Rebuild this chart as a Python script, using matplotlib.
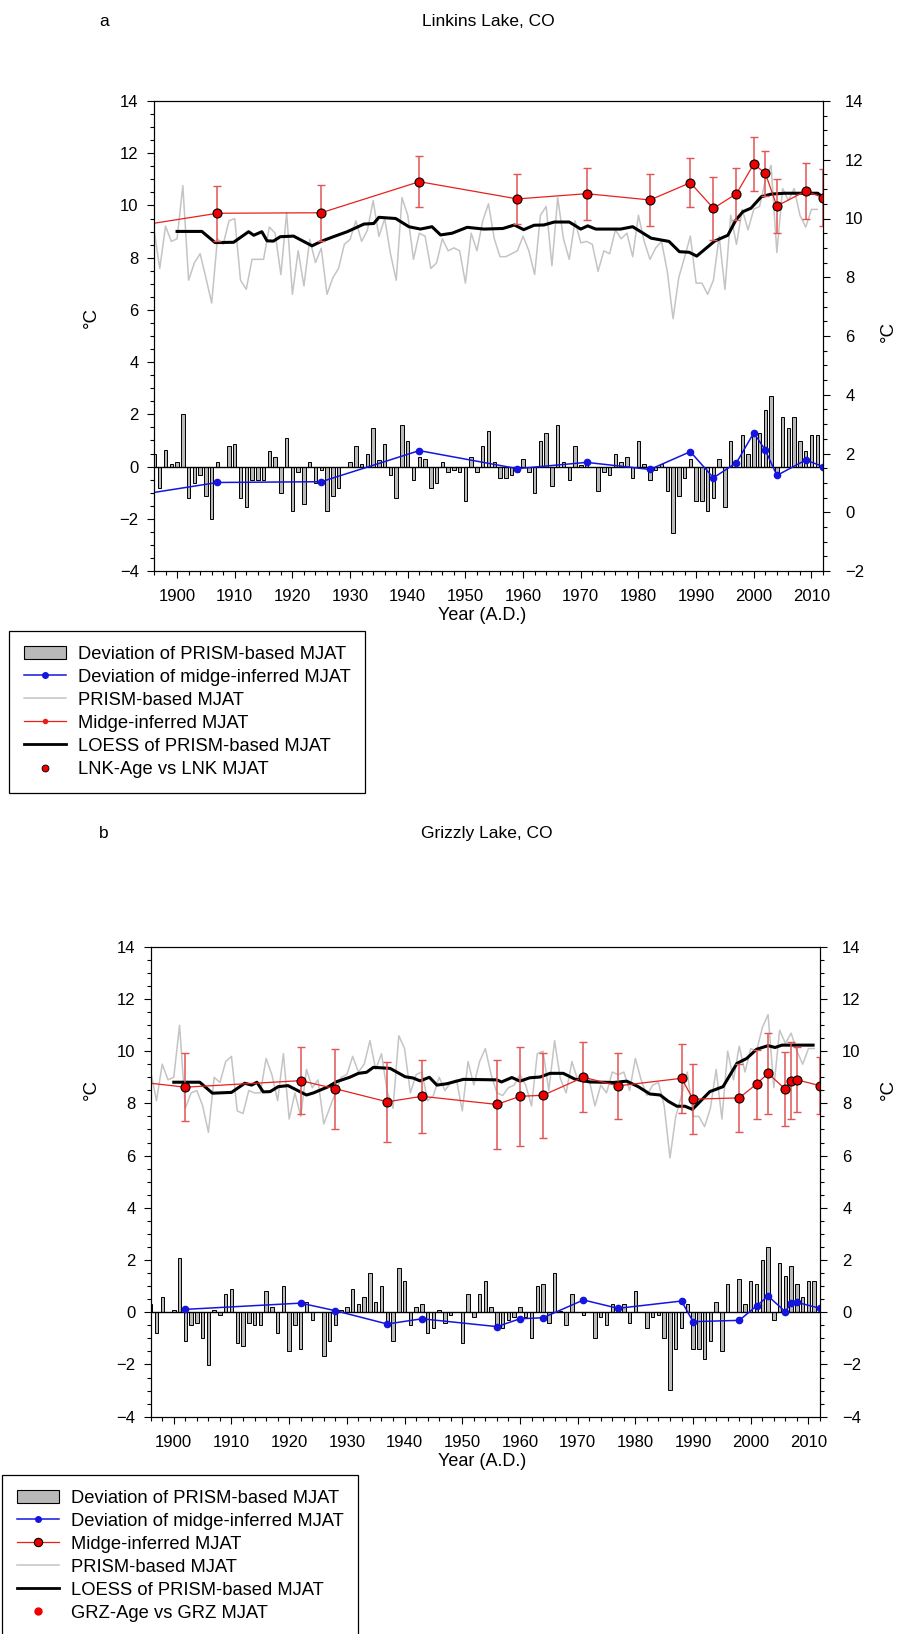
import numpy as np
import matplotlib
matplotlib.use("Agg")
import matplotlib.pyplot as plt
from matplotlib.lines import Line2D
from matplotlib.patches import Patch
from matplotlib.ticker import MultipleLocator

plt.rcParams['font.family'] = ['Liberation Sans', 'DejaVu Sans']

years = np.arange(1896, 2012)

# ---- Linkins Lake (panel a) ----
lnk_dev = [0.50, -0.82, 0.62, 0.10, 0.19, 2.00, -1.22, -0.63, -0.32, -1.14,
           -2.00, 0.19, 0.00, 0.80, 0.88, -1.22, -1.53, -0.51, -0.51, -0.51,
           0.59, 0.38, -1.03, 1.08, -1.70, -0.22, -1.42, 0.17, -0.62, -0.13,
           -1.70, -1.14, -0.82, 0.00, 0.17, 0.80, 0.10, 0.48, 1.49, 0.27,
           0.88, -0.32, -1.22, 1.59, 0.99, -0.51, 0.38, 0.28, -0.82, -0.63,
           0.19, -0.22, -0.12, -0.22, -1.32, 0.38, -0.22, 0.80, 1.38, 0.19,
           -0.42, -0.42, -0.32, -0.22, 0.28, -0.22, -1.03, 0.99, 1.29, -0.73,
           1.59, 0.19, -0.51, 0.80, 0.05, 0.10, 0.00, -0.92, -0.22, -0.32,
           0.49, 0.19, 0.38, -0.42, 0.99, 0.10, -0.51, -0.12, 0.10, -0.92,
           -2.53, -1.12, -0.44, 0.28, -1.32, -1.32, -1.70, -1.22, 0.28, -1.54,
           0.99, 0.00, 1.19, 0.49, 1.20, 1.29, 2.18, 2.69, -0.28, 1.90,
           1.49, 1.90, 0.99, 0.59, 1.19, 1.19]
lnk_prism_mean = 9.12   # PRISM is read on the right axis

lnk_midge_year = [1890, 1907, 1925, 1942, 1959, 1971, 1982, 1989, 1993, 1997, 2000, 2002, 2004, 2009, 2012]
lnk_midge = [9.11, 9.70, 9.72, 10.91, 10.25, 10.45, 10.21, 10.87, 9.89, 10.45, 11.59, 11.23, 9.98, 10.55, 10.30]
lnk_midge_err = [1.0, 1.05, 1.07, 0.97, 0.97, 1.0, 0.98, 0.93, 1.2, 1.0, 1.04, 0.85, 1.04, 1.06, 1.08]
lnk_midge_dev = [-1.2, -0.61, -0.58, 0.61, -0.08, 0.16, -0.11, 0.57, -0.43, 0.15, 1.29, 0.63, -0.34, 0.25, 0.0]

lnk_loess_year = [1900, 1904.3, 1906.6, 1909.8, 1912.4, 1913.3, 1914.7, 1915.6, 1916.7, 1917.9,
                  1920.2, 1923.4, 1925.1, 1927.1, 1929.5, 1932.4, 1934.1, 1935.0, 1937.9, 1940.2,
                  1942.2, 1944.2, 1945.7, 1947.7, 1950.3, 1953.2, 1956.5, 1958.5, 1960.1, 1961.9,
                  1963.6, 1965.4, 1968.0, 1970.0, 1971.2, 1972.6, 1976.9, 1979.0, 1982.2, 1985.3,
                  1987.1, 1988.8, 1990.1, 1993.2, 1995.5, 1996.9, 1998.1, 1999.5, 2001.3, 2003.0,
                  2005.3, 2011.1, 2011.7]
lnk_loess = [9.56, 9.56, 9.18, 9.19, 9.55, 9.43, 9.55, 9.24, 9.23, 9.38,
             9.40, 9.07, 9.23, 9.38, 9.55, 9.81, 9.83, 10.04, 10.00, 9.72,
             9.64, 9.72, 9.44, 9.50, 9.70, 9.64, 9.66, 9.78, 9.62, 9.77,
             9.78, 9.88, 9.88, 9.64, 9.75, 9.64, 9.64, 9.72, 9.33, 9.22,
             8.87, 8.85, 8.72, 9.23, 9.43, 9.95, 10.23, 10.35, 10.74, 10.83,
             10.86, 10.86, 10.76]

# ---- Grizzly Lake (panel b) ----
grz_dev = [0.32, -0.80, 0.60, 0.00, 0.10, 2.09, -1.09, -0.50, -0.41, -0.99,
           -2.01, 0.10, -0.10, 0.70, 0.90, -1.19, -1.29, -0.41, -0.50, -0.50,
           0.82, 0.20, -0.80, 1.00, -1.50, -0.50, -1.40, 0.40, -0.30, 0.00,
           -1.69, -1.09, -0.50, 0.10, 0.20, 0.90, 0.30, 0.60, 1.50, 0.40,
           1.00, -0.45, -1.09, 1.69, 1.20, -0.50, 0.20, 0.30, -0.80, -0.60,
           0.10, -0.41, -0.10, 0.00, -1.19, 0.70, -0.20, 0.70, 1.20, 0.20,
           -0.50, -0.60, -0.30, -0.20, 0.20, -0.20, -1.00, 1.00, 1.10, -0.41,
           1.50, 0.05, -0.50, 0.70, 0.00, -0.10, 0.00, -1.00, -0.20, -0.50,
           0.30, 0.20, 0.30, -0.41, 0.82, 0.00, -0.60, -0.20, -0.10, -1.00,
           -2.99, -1.40, -0.60, 0.30, -1.40, -1.40, -1.79, -1.09, 0.40, -1.50,
           1.10, 0.00, 1.29, 0.30, 1.20, 1.10, 2.00, 2.50, -0.30, 1.90,
           1.40, 1.79, 1.10, 0.60, 1.20, 1.20]
grz_prism_mean = 8.9

grz_midge_year = [1890, 1902, 1922, 1928, 1937, 1943, 1956, 1960, 1964, 1971, 1977, 1988, 1990, 1998, 2001, 2003, 2006, 2007, 2008, 2012]
grz_midge = [8.92, 8.62, 8.87, 8.56, 8.06, 8.27, 7.96, 8.27, 8.31, 9.00, 8.67, 8.96, 8.16, 8.21, 8.74, 9.15, 8.54, 8.87, 8.90, 8.68]
grz_midge_err = [1.3, 1.3, 1.28, 1.53, 1.53, 1.39, 1.72, 1.9, 1.63, 1.34, 1.25, 1.33, 1.33, 1.3, 1.32, 1.54, 1.42, 1.47, 1.24, 1.1]
grz_dev_year = [1902, 1922, 1928, 1937, 1943, 1956, 1960, 1964, 1971, 1977, 1988, 1990, 1998, 2001, 2003, 2006, 2007, 2008, 2012]
grz_midge_dev = [0.11, 0.35, 0.06, -0.45, -0.25, -0.55, -0.25, -0.21, 0.47, 0.15, 0.43, -0.36, -0.31, 0.24, 0.62, 0.02, 0.36, 0.38, 0.15]

grz_loess_year = [1900.0, 1904.5, 1906.7, 1910.0, 1912.3, 1913.5, 1914.4, 1915.5, 1916.7, 1918.1,
                  1919.8, 1923.0, 1924.2, 1926.8, 1928.2, 1930.5, 1932.0, 1933.4, 1934.6, 1937.5,
                  1940.1, 1941.5, 1942.7, 1944.3, 1945.6, 1947.3, 1950.2, 1956.0, 1956.8, 1958.6,
                  1960.0, 1961.7, 1963.5, 1965.2, 1967.5, 1969.5, 1972.1, 1976.2, 1978.5, 1980.5,
                  1982.5, 1984.3, 1985.7, 1987.2, 1988.6, 1989.9, 1992.9, 1995.2, 1997.6, 1999.3,
                  2001.0, 2003.0, 2004.2, 2005.4, 2010.8]
grz_loess = [8.81, 8.81, 8.39, 8.42, 8.77, 8.70, 8.81, 8.44, 8.45, 8.64,
             8.68, 8.32, 8.40, 8.64, 8.83, 9.00, 9.15, 9.19, 9.38, 9.34,
             9.02, 8.97, 8.86, 9.00, 8.70, 8.75, 8.92, 8.90, 8.82, 8.99,
             8.85, 8.98, 9.01, 9.15, 9.15, 8.93, 8.82, 8.80, 8.85, 8.64,
             8.36, 8.32, 8.08, 7.89, 7.89, 7.77, 8.45, 8.64, 9.53, 9.72,
             10.07, 10.21, 10.14, 10.23, 10.23]

W, H = 904, 1634
fig = plt.figure(figsize=(W / 100, H / 100), dpi=100)

RED = '#e8201c'
ERR = '#e25555'
BLUE = '#1515e0'
GRAY = '#c4c4c4'
BARC = '#b9b9b9'


def fx(px):
    return px / W


def fy(py):
    return 1 - py / H


def style_axis(ax):
    ax.tick_params(axis='both', which='both', direction='out', width=0.8, labelsize=12)
    ax.tick_params(which='major', length=5)
    ax.tick_params(which='minor', length=3)
    ax.yaxis.set_major_locator(MultipleLocator(2))
    ax.yaxis.set_minor_locator(MultipleLocator(0.5))
    for s in ax.spines.values():
        s.set_linewidth(0.8)


def panel(box, dev, prism_mean, right_lim, m_year, m_val, m_err, d_year, d_val, l_year, l_val):
    left, top, right, bottom = box
    ax = fig.add_axes([fx(left), fy(bottom), fx(right - left), (bottom - top) / H])
    ax2 = ax.twinx()

    # PRISM and its LOESS sit on the right-hand scale
    ax2.plot(years, prism_mean + np.array(dev), color=GRAY, lw=1.1)
    ax2.plot(l_year, l_val, color='black', lw=2.2)

    ax.bar(years, dev, width=0.6, color=BARC, edgecolor='black', linewidth=0.7)
    ax.axhline(0, color='black', lw=1)
    ax.plot(d_year, d_val, '-o', color=BLUE, lw=1.1, ms=4.5)
    ax.errorbar(m_year, m_val, yerr=m_err, fmt='none', ecolor=ERR, elinewidth=1.1,
                capsize=3, capthick=1)
    ax.plot(m_year, m_val, color=RED, lw=0.9)
    ax.plot(m_year, m_val, 'o', ms=6.5, mfc='#ee0000', mec='black', mew=0.8)

    ax.set_zorder(ax2.get_zorder() + 1)
    ax.patch.set_visible(False)

    ax.set_xlim(1896, 2012)
    ax.set_ylim(-4, 14)
    ax2.set_ylim(*right_lim)
    ax.xaxis.set_major_locator(MultipleLocator(10))
    ax.xaxis.set_minor_locator(MultipleLocator(2))
    style_axis(ax)
    style_axis(ax2)
    ax.tick_params(axis='x', which='both', top=False)
    ax.tick_params(axis='x', which='major', pad=8)
    ax.tick_params(axis='y', which='both', left=True, right=False)
    ax.tick_params(axis='y', which='major', pad=6)
    ax2.tick_params(axis='y', which='both', left=False, right=True, labelright=True)
    ax2.yaxis.set_tick_params(which='major', pad=11)
    return ax


# panel a
panel((154, 101, 823, 571), lnk_dev, lnk_prism_mean, (-2, 14),
      lnk_midge_year, lnk_midge, lnk_midge_err, lnk_midge_year, lnk_midge_dev,
      lnk_loess_year, lnk_loess)
fig.text(fx(104), fy(21), 'a', fontsize=12.5, ha='center', va='center')
fig.text(fx(488), fy(21), 'Linkins Lake, CO', fontsize=12.5, ha='center', va='center')
fig.text(fx(482), fy(615), 'Year (A.D.)', fontsize=13, ha='center', va='center')
fig.text(fx(91), fy(318), '°C', fontsize=13.5, ha='center', va='center', rotation=90)
fig.text(fx(888), fy(331), '°C', fontsize=13.5, ha='center', va='center', rotation=90)

# panel b
panel((150.7, 946.7, 820, 1416.7), grz_dev, grz_prism_mean, (-4, 14),
      grz_midge_year, grz_midge, grz_midge_err, grz_dev_year, grz_midge_dev,
      grz_loess_year, grz_loess)
fig.text(fx(104), fy(834), 'b', fontsize=12.5, ha='center', va='center')
fig.text(fx(487), fy(834), 'Grizzly Lake, CO', fontsize=12.5, ha='center', va='center')
fig.text(fx(482), fy(1461), 'Year (A.D.)', fontsize=13, ha='center', va='center')
fig.text(fx(91), fy(1090), '°C', fontsize=13.5, ha='center', va='center', rotation=90)
fig.text(fx(888), fy(1090), '°C', fontsize=13.5, ha='center', va='center', rotation=90)

# legends
h_bar = Patch(facecolor=BARC, edgecolor='black', linewidth=0.8)
h_blue = Line2D([], [], color=BLUE, lw=1.1, marker='o', ms=4)
h_gray = Line2D([], [], color=GRAY, lw=1.1)
h_red_small = Line2D([], [], color=RED, lw=0.9, marker='o', ms=3)
h_red_big = Line2D([], [], color=RED, lw=0.9, marker='o', ms=6, mfc='#ee0000', mec='black', mew=0.8)
h_black = Line2D([], [], color='black', lw=2)
h_dot_edge = Line2D([], [], ls='none', marker='o', ms=5, mfc='#ee0000', mec='black', mew=0.6)
h_dot = Line2D([], [], ls='none', marker='o', ms=5, mfc='#ee0000', mec='#ee0000')

leg_kw = dict(loc='upper left', bbox_transform=fig.transFigure, frameon=True, fancybox=False,
              edgecolor='black', framealpha=1, borderaxespad=0, fontsize=13.2,
              handlelength=2.3, handletextpad=0.65, labelspacing=0.33, borderpad=0.8)

leg_a = fig.legend([h_bar, h_blue, h_gray, h_red_small, h_black, h_dot_edge],
                   ['Deviation of PRISM-based MJAT', 'Deviation of midge-inferred MJAT',
                    'PRISM-based MJAT', 'Midge-inferred MJAT', 'LOESS of PRISM-based MJAT',
                    'LNK-Age vs LNK MJAT'],
                   bbox_to_anchor=(fx(9), fy(631)), **leg_kw)
leg_a.get_frame().set_linewidth(0.9)

leg_b = fig.legend([h_bar, h_blue, h_red_big, h_gray, h_black, h_dot],
                   ['Deviation of PRISM-based MJAT', 'Deviation of midge-inferred MJAT',
                    'Midge-inferred MJAT', 'PRISM-based MJAT', 'LOESS of PRISM-based MJAT',
                    'GRZ-Age vs GRZ MJAT'],
                   bbox_to_anchor=(fx(2), fy(1475)), **leg_kw)
leg_b.get_frame().set_linewidth(0.9)

fig.savefig('out.png', dpi=100)
